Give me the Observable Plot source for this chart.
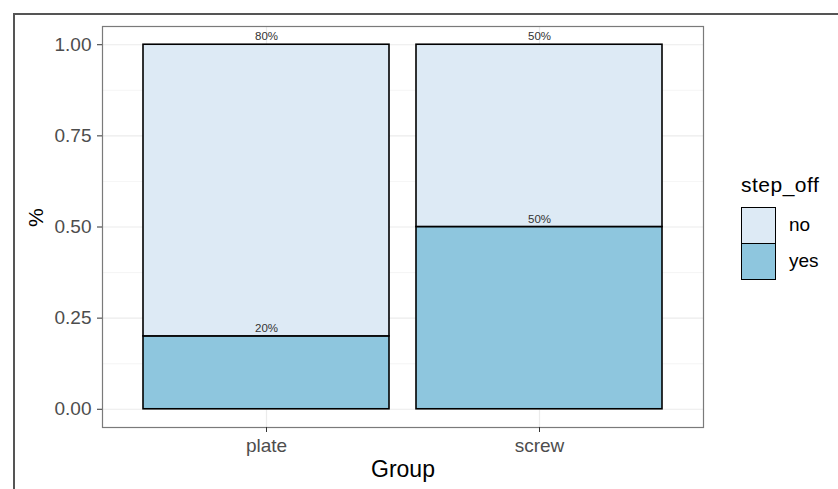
<!DOCTYPE html>
<html>
<head>
<meta charset="utf-8">
<script src="https://cdn.jsdelivr.net/npm/d3@7"></script>
<script src="https://cdn.jsdelivr.net/npm/@observablehq/plot@0.6"></script>
<style>
  html, body { margin: 0; padding: 0; background: #fff; }
  #wrap { position: relative; width: 838px; height: 489px; font-family: "Liberation Sans", Arial, sans-serif; overflow: hidden; }
  #frame { position: absolute; left: 13px; top: 13px; right: -5px; bottom: -5px; border-top: 2px solid #555; border-left: 2px solid #555; pointer-events: none; }
  #legend { position: absolute; left: 741px; top: 173px; color: #000; }
  #legend .title { font-size: 21px; line-height: 24px; margin-bottom: 10px; letter-spacing: 0.5px; }
  #legend .row { display: flex; align-items: center; height: 36px; }
  #legend .key { width: 35px; height: 37px; border: 1.6px solid #000; box-sizing: border-box; }
  #legend .lab { font-size: 19px; margin-left: 13px; }
</style>
</head>
<body>
<div id="wrap"><div id="chart"></div><div id="legend"></div><div id="frame"></div></div>
<script>
const groups = ["plate", "screw"];
const stepOff = ["yes", "no"];
const yesShare = [0.2, 0.5];
const noShare = [0.8, 0.5];
const yTicks = [0, 0.25, 0.5, 0.75, 1];
const yMinor = [0.125, 0.375, 0.625, 0.875];
const fillColors = {no: "#ddeaf5", yes: "#8ec6de"};
const legendOrder = ["no", "yes"];

const data = [];
groups.forEach((g, i) => {
  data.push({group: g, step_off: "yes", value: yesShare[i]});
  data.push({group: g, step_off: "no", value: noShare[i]});
});
const fmtPct = v => Math.round(v * 100) + "%";

const stackOpts = {x: "group", y: "value", z: "step_off", order: stepOff};

const chart = Plot.plot({
  width: 838,
  height: 489,
  marginLeft: 102,
  marginRight: 135,
  marginTop: 26,
  marginBottom: 62,
  style: {fontFamily: "Liberation Sans, Arial, sans-serif", background: "#fff"},
  x: {domain: groups, paddingInner: 0.1, paddingOuter: 0.15, label: null, axis: null},
  y: {domain: [-0.05, 1.05], label: null, axis: null},
  color: {domain: legendOrder, range: legendOrder.map(k => fillColors[k])},
  marks: [
    Plot.ruleY(yMinor, {stroke: "#f2f2f2", strokeWidth: 0.8}),
    Plot.ruleY(yTicks, {stroke: "#ebebeb", strokeWidth: 1.2}),
    Plot.ruleX(groups, {x: d => d, stroke: "#ebebeb", strokeWidth: 1.2}),
    Plot.barY(data, Plot.stackY({...stackOpts, fill: "step_off", stroke: "#000", strokeWidth: 1.6})),
    Plot.text(data, Plot.stackY2({...stackOpts, text: d => fmtPct(d.value), dy: -8, fontSize: 11.5, fill: "#333"})),
    Plot.frame({stroke: "#7a7a7a", strokeWidth: 1.2}),
    Plot.axisY(yTicks, {tickFormat: d3.format(".2f"), tickSize: 5, tickPadding: 6, fontSize: 19, fill: "#4d4d4d", stroke: "#333", label: null}),
    Plot.axisX(groups, {tickSize: 5, tickPadding: 6, fontSize: 19, fill: "#4d4d4d", stroke: "#333", label: null}),
    Plot.text(["%"], {frameAnchor: "left", dx: -66, rotate: -90, fontSize: 21, fill: "#000", text: d => d}),
    Plot.text(["Group"], {frameAnchor: "bottom", dy: 49, fontSize: 23, fill: "#000", text: d => d})
  ]
});
document.getElementById("chart").appendChild(chart);

const legend = document.getElementById("legend");
const t = document.createElement("div");
t.className = "title";
t.textContent = "step_off";
legend.appendChild(t);
legendOrder.forEach(k => {
  const row = document.createElement("div");
  row.className = "row";
  const key = document.createElement("div");
  key.className = "key";
  key.style.background = fillColors[k];
  const lab = document.createElement("span");
  lab.className = "lab";
  lab.textContent = k;
  row.appendChild(key);
  row.appendChild(lab);
  legend.appendChild(row);
});
</script>
</body>
</html>
